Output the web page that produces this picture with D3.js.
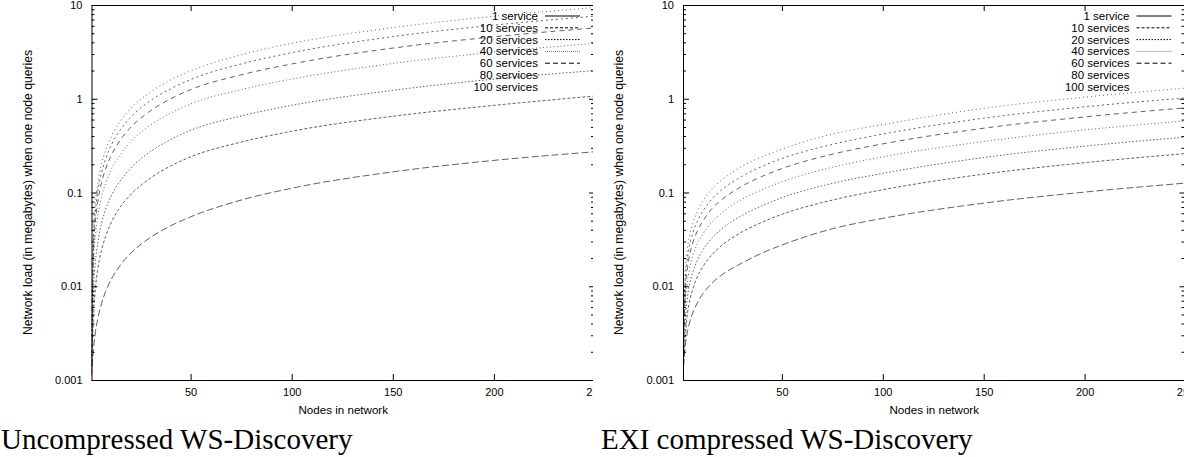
<!DOCTYPE html>
<html>
<head>
<meta charset="utf-8">
<script src="https://cdn.jsdelivr.net/npm/d3@7"></script>
<style>
  html, body { margin: 0; padding: 0; background: #fff; }
  svg { display: block; }
  .tick text { font-family: 'Liberation Sans', Arial, sans-serif; font-size: 11px; fill: #000; }
  .axis-title { font-family: 'Liberation Sans', Arial, sans-serif; font-size: 11.6px; fill: #000; }
  .y-title { font-size: 12.2px; }
  .legend-text { font-family: 'Liberation Sans', Arial, sans-serif; font-size: 11.5px; fill: #000; }
  .caption { font-family: 'Liberation Serif', 'Times New Roman', serif; font-size: 29px; fill: #000; }
</style>
</head>
<body>
<div id="chart"></div>
<script>
// nodes in network (x values sampled for every curve)
const nodes = [1, 2, 3, 4, 6, 8, 11, 15, 20, 30, 40, 50, 75, 100, 150, 200, 250];
const serviceLabels = ['1 service', '10 services', '20 services', '40 services', '60 services', '80 services', '100 services'];
const xTickValues = [50, 100, 150, 200, 250];
const yTickValues = [0.001, 0.01, 0.1, 1, 10];
const yTickLabels = ['0.001', '0.01', '0.1', '1', '10'];
const captions = ['Uncompressed WS-Discovery', 'EXI compressed WS-Discovery'];

// network load (MB), uncompressed
const plain1 = [0.0011, 0.0022, 0.0033, 0.0044, 0.0066, 0.0088, 0.0121, 0.0165, 0.022, 0.033, 0.044, 0.055, 0.083, 0.111, 0.166, 0.22, 0.272];
const plain10 = [0.0012, 0.0049, 0.0098, 0.0147, 0.0245, 0.034, 0.049, 0.069, 0.093, 0.142, 0.191, 0.24, 0.345, 0.45, 0.65, 0.85, 1.07];
const plain20 = [0.0013, 0.0094, 0.0188, 0.028, 0.047, 0.066, 0.094, 0.131, 0.178, 0.272, 0.366, 0.46, 0.655, 0.85, 1.23, 1.62, 2.0];
const plain40 = [0.0013, 0.018, 0.036, 0.054, 0.09, 0.126, 0.18, 0.25, 0.34, 0.52, 0.70, 0.88, 1.25, 1.62, 2.38, 3.14, 3.9];
const plain60 = [0.0014, 0.0255, 0.051, 0.077, 0.128, 0.179, 0.255, 0.357, 0.485, 0.74, 0.995, 1.25, 1.8, 2.35, 3.47, 4.58, 5.7];
const plain80 = [0.0014, 0.0327, 0.065, 0.098, 0.163, 0.229, 0.327, 0.457, 0.62, 0.95, 1.27, 1.6, 2.35, 3.1, 4.6, 6.1, 7.6];
const plain100 = [0.0015, 0.040, 0.081, 0.121, 0.202, 0.283, 0.404, 0.566, 0.77, 1.17, 1.58, 1.98, 2.94, 3.9, 5.73, 7.57, 9.4];

// network load (MB), EXI compressed
const exi1 = [0.0011, 0.0022, 0.0031, 0.0039, 0.0053, 0.0066, 0.0084, 0.0106, 0.0131, 0.0176, 0.0225, 0.0275, 0.041, 0.053, 0.077, 0.101, 0.126];
const exi10 = [0.0012, 0.0026, 0.0047, 0.0065, 0.0096, 0.0125, 0.0164, 0.0213, 0.027, 0.0377, 0.048, 0.0585, 0.083, 0.107, 0.157, 0.208, 0.26];
const exi20 = [0.0012, 0.0039, 0.007, 0.0098, 0.0144, 0.0187, 0.0246, 0.032, 0.0406, 0.0566, 0.072, 0.088, 0.125, 0.16, 0.236, 0.312, 0.39];
const exi40 = [0.0013, 0.0058, 0.0104, 0.0145, 0.0215, 0.028, 0.0365, 0.0476, 0.060, 0.084, 0.107, 0.13, 0.186, 0.24, 0.35, 0.465, 0.58];
const exi60 = [0.0013, 0.008, 0.0144, 0.02, 0.0296, 0.0384, 0.050, 0.066, 0.083, 0.116, 0.148, 0.18, 0.256, 0.33, 0.485, 0.64, 0.80];
const exi80 = [0.0014, 0.0102, 0.0184, 0.0255, 0.0377, 0.049, 0.064, 0.084, 0.106, 0.148, 0.189, 0.23, 0.326, 0.42, 0.62, 0.82, 1.02];
const exi100 = [0.0015, 0.013, 0.0234, 0.0325, 0.048, 0.062, 0.082, 0.107, 0.135, 0.189, 0.24, 0.29, 0.42, 0.53, 0.79, 1.04, 1.30];

const plainSeries = [plain1, plain10, plain20, plain40, plain60, plain80, plain100];
const exiSeries = [exi1, exi10, exi20, exi40, exi60, exi80, exi100];

// gnuplot-ish line types
const curveDash = ['7,3', '3,2', '1.5,2', '1,2.5', '5,4', '2,3', '1,3'];
const legendDash = ['none', '3,2', '1.5,1.5', '1,1', '5,3', null, null];
const legendColor = ['#000', '#000', '#000', '#777', '#000', '#000', '#000'];

const width = 1184;
const height = 457;
const plotTop = 5;
const plotBottom = 380;

class PlotUtilities {

    static initializeSVG(height, width, parentid) {
        const svg = d3.select(parentid).append('svg');
        svg
            .attr('height', height)
            .attr('width', width);
        return svg;
    }

    static drawAxes(group, x, y) {
        const majors = yTickValues;
        const minors = [];
        for (let d = 0.001; d < 10; d *= 10) {
            for (let m = 2; m <= 9; m++) minors.push(+(m * d).toPrecision(3));
        }
        const x0 = x.range()[0], x1 = x.range()[1];

        group.append('g')
            .attr('transform', `translate(0, ${plotBottom})`)
            .call(d3.axisBottom(x).tickValues(xTickValues).tickSize(-6).tickSizeOuter(0).tickPadding(8));
        group.append('g')
            .attr('transform', `translate(0, ${plotTop})`)
            .call(d3.axisTop(x).tickValues(xTickValues).tickSize(-6).tickSizeOuter(0).tickFormat(''));
        group.append('g')
            .attr('transform', `translate(${x0}, 0)`)
            .call(d3.axisLeft(y).tickValues(majors).tickSize(-6).tickSizeOuter(0).tickPadding(9)
                .tickFormat((d, i) => yTickLabels[i]));
        const leftMinor = group.append('g')
            .attr('transform', `translate(${x0}, 0)`)
            .call(d3.axisLeft(y).tickValues(minors).tickSize(-3).tickSizeOuter(0).tickFormat(''));
        group.append('g')
            .attr('transform', `translate(${x1}, 0)`)
            .call(d3.axisRight(y).tickValues(majors).tickSize(-6).tickSizeOuter(0).tickFormat(''));
        const rightMinor = group.append('g')
            .attr('transform', `translate(${x1}, 0)`)
            .call(d3.axisRight(y).tickValues(minors).tickSize(-4).tickSizeOuter(0).tickFormat(''));

        leftMinor.select('.domain').remove();
        rightMinor.select('.domain').remove();
        group.selectAll('.domain').attr('stroke', '#000').attr('stroke-width', 1);
        group.selectAll('.tick line').attr('stroke', '#000').attr('stroke-width', 1);
    }

    static appendTextXAxis(group, titleName, x, y) {
        group.append('text')
            .attr('class', 'axis-title')
            .attr('text-anchor', 'middle')
            .attr('dominant-baseline', 'central')
            .attr('x', x)
            .attr('y', y)
            .text(titleName);
    }

    static appendTextYAxis(group, titleName, x, y) {
        group.append('text')
            .attr('class', 'axis-title y-title')
            .attr('text-anchor', 'middle')
            .attr('dominant-baseline', 'central')
            .attr('transform', `translate(${x}, ${y}) rotate(-90)`)
            .text(titleName);
    }
}

function drawPanel(svg, series, xRange, clipRight, caption, captionX, id) {
    const x = d3.scaleLinear().domain([1, 250]).range(xRange);
    const y = d3.scaleLog().domain([0.001, 10]).range([plotBottom, plotTop]);

    const panel = svg.append('g').attr('class', 'panel');
    panel.append('clipPath').attr('id', 'panel-' + id)
        .append('rect').attr('x', 0).attr('y', 0).attr('width', clipRight).attr('height', height);
    const chart = panel.append('g').attr('clip-path', `url(#panel-${id})`);

    chart.append('clipPath').attr('id', 'plot-' + id)
        .append('rect')
        .attr('x', xRange[0]).attr('y', plotTop)
        .attr('width', xRange[1] - xRange[0]).attr('height', plotBottom - plotTop);

    const line = d3.line()
        .x((d, i) => x(nodes[i]))
        .y(d => y(d))
        .curve(d3.curveMonotoneX);

    chart.append('g')
        .attr('clip-path', `url(#plot-${id})`)
        .selectAll('path')
        .data(series)
        .join('path')
        .attr('fill', 'none')
        .attr('stroke', '#3a3a3a')
        .attr('stroke-width', 0.8)
        .attr('stroke-dasharray', (d, i) => curveDash[i])
        .attr('d', line);

    PlotUtilities.drawAxes(chart, x, y);

    // legend
    const legend = chart.append('g');
    const textX = xRange[0] + 446.5;
    serviceLabels.forEach((label, i) => {
        const ly = plotTop + 11 + i * 11.8;
        legend.append('text')
            .attr('class', 'legend-text')
            .attr('text-anchor', 'end')
            .attr('dominant-baseline', 'central')
            .attr('x', textX)
            .attr('y', ly)
            .text(label);
        if (legendDash[i] !== null) {
            legend.append('line')
                .attr('x1', textX + 7).attr('x2', textX + 42)
                .attr('y1', ly).attr('y2', ly)
                .attr('stroke', legendColor[i])
                .attr('stroke-width', 1)
                .attr('stroke-dasharray', legendDash[i]);
        }
    });

    PlotUtilities.appendTextXAxis(chart, 'Nodes in network', (xRange[0] + xRange[1]) / 2, 409);
    PlotUtilities.appendTextYAxis(chart, 'Network load (in megabytes) when one node queries',
        xRange[0] - 64, (plotTop + plotBottom) / 2);

    svg.append('text')
        .attr('class', 'caption')
        .attr('x', captionX)
        .attr('y', 449)
        .text(caption);
}

const svg = PlotUtilities.initializeSVG(height, width, '#chart');
drawPanel(svg, plainSeries, [91.5, 595], 593, captions[0], 1, 'a');
drawPanel(svg, exiSeries, [683, 1185.5], width, captions[1], 601, 'b');
</script>
</body>
</html>
